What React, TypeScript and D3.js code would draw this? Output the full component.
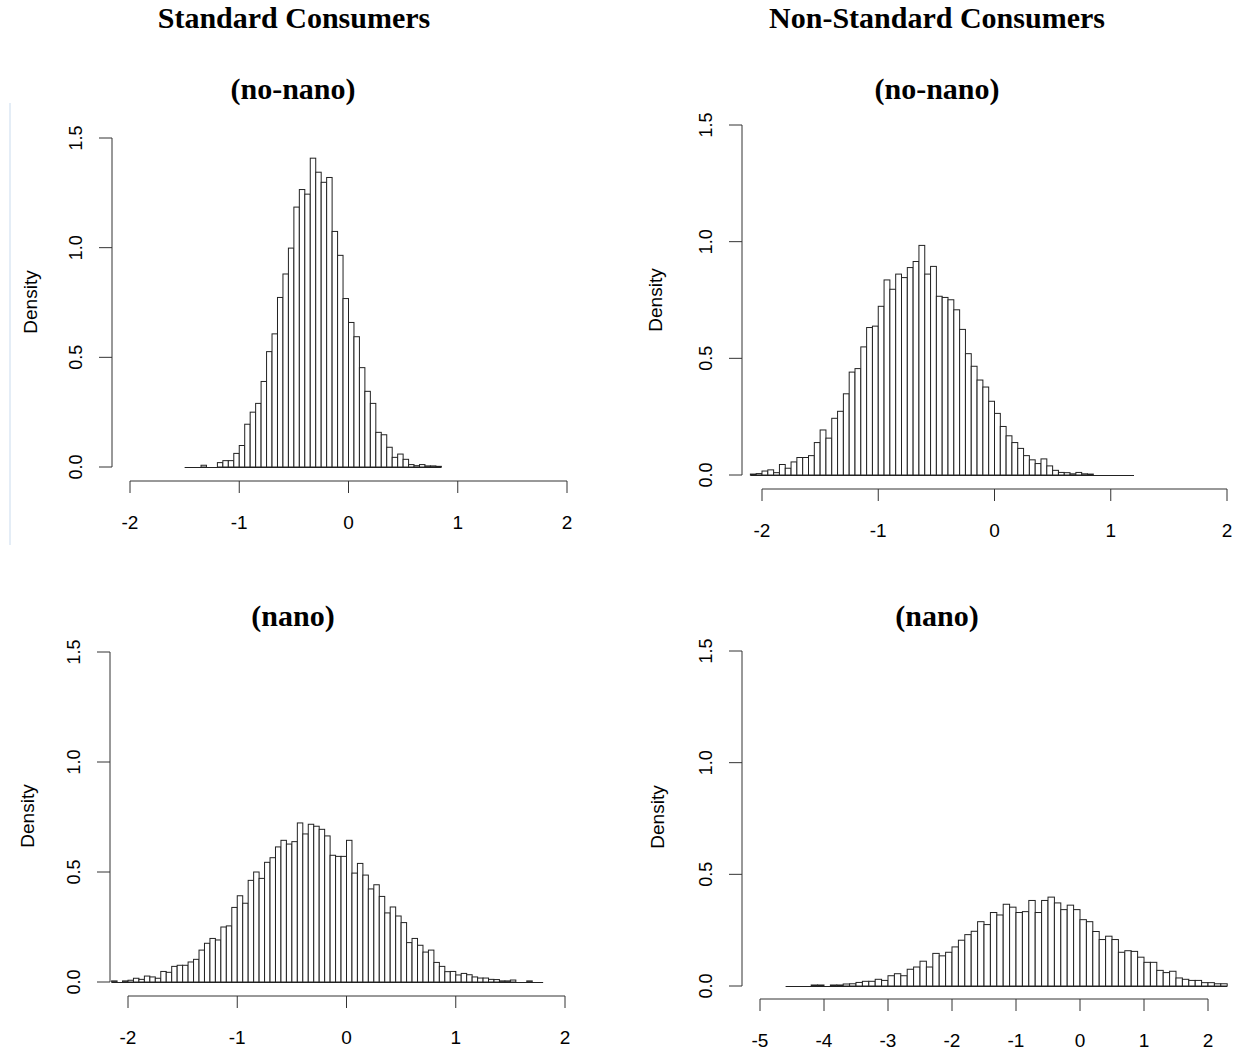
import React from "react"
import { scaleLinear } from "d3"

// histogram densities (R hist, freq = FALSE)
const stdNoNanoStart = -1.5
const stdNoNanoStep = 0.05
const stdNoNano = [
  0, 0, 0, 0.008, 0, 0, 0.02, 0.029, 0.029, 0.062,
  0.098, 0.195, 0.25, 0.29, 0.39, 0.526, 0.607, 0.773, 0.88, 0.998,
  1.185, 1.265, 1.244, 1.408, 1.344, 1.298, 1.32, 1.074, 0.965, 0.768,
  0.659, 0.594, 0.453, 0.345, 0.29, 0.158, 0.147, 0.09, 0.044, 0.059,
  0.035, 0.011, 0.006, 0.011, 0.005, 0.005, 0.003,
]

const nonStdNoNanoStart = -2.1
const nonStdNoNanoStep = 0.05
const nonStdNoNano = [
  0.004, 0.006, 0.017, 0.022, 0.01, 0.045, 0.029, 0.056, 0.075, 0.075,
  0.083, 0.139, 0.193, 0.158, 0.243, 0.273, 0.348, 0.441, 0.456, 0.549,
  0.632, 0.638, 0.723, 0.836, 0.796, 0.861, 0.846, 0.889, 0.915, 0.984,
  0.861, 0.894, 0.766, 0.761, 0.751, 0.708, 0.624, 0.52, 0.466, 0.407,
  0.377, 0.316, 0.264, 0.208, 0.168, 0.139, 0.114, 0.083, 0.065, 0.049,
  0.069, 0.039, 0.02, 0.011, 0.01, 0.005, 0.011, 0.005, 0.004, 0,
  0, 0, 0, 0, 0, 0,
]

const stdNanoStart = -2.15
const stdNanoStep = 0.05
const stdNano = [
  0.005, 0, 0.005, 0.008, 0.017, 0.012, 0.027, 0.023, 0.017, 0.048,
  0.044, 0.071, 0.076, 0.076, 0.091, 0.103, 0.145, 0.176, 0.198, 0.191,
  0.25, 0.255, 0.339, 0.392, 0.358, 0.462, 0.5, 0.471, 0.544, 0.565,
  0.614, 0.644, 0.627, 0.638, 0.723, 0.673, 0.717, 0.708, 0.694, 0.664,
  0.576, 0.571, 0.571, 0.644, 0.495, 0.539, 0.486, 0.423, 0.442, 0.389,
  0.314, 0.341, 0.3, 0.27, 0.179, 0.198, 0.167, 0.136, 0.145, 0.089,
  0.071, 0.047, 0.048, 0.032, 0.039, 0.033, 0.023, 0.018, 0.018, 0.012,
  0.011, 0.005, 0.005, 0.009, 0, 0, 0.005, 0, 0,
]

const nonStdNanoStart = -4.6
const nonStdNanoStep = 0.1
const nonStdNano = [
  0, 0, 0, 0, 0.0045, 0.0045, 0, 0.0045, 0.0045, 0.009,
  0.01, 0.016, 0.021, 0.021, 0.03, 0.025, 0.046, 0.055, 0.046, 0.075,
  0.085, 0.111, 0.085, 0.146, 0.135, 0.151, 0.175, 0.205, 0.23, 0.245,
  0.288, 0.275, 0.329, 0.318, 0.366, 0.353, 0.329, 0.333, 0.383, 0.329,
  0.383, 0.398, 0.372, 0.342, 0.362, 0.342, 0.297, 0.288, 0.244, 0.208,
  0.223, 0.208, 0.151, 0.158, 0.155, 0.129, 0.106, 0.106, 0.07, 0.06,
  0.066, 0.036, 0.03, 0.025, 0.025, 0.015, 0.015, 0.01, 0.01,
]

const yTicks = [0, 0.5, 1, 1.5]
const xTicksStd = [-2, -1, 0, 1, 2]
const xTicksNano = [-5, -4, -3, -2, -1, 0, 1, 2]

const colTitles = ["Standard Consumers", "Non-Standard Consumers"]
const rowTitles = ["(no-nano)", "(nano)"]

const sans = "'Liberation Sans', Arial, sans-serif"
const serif = "'Liberation Serif', 'Times New Roman', serif"
const axisColor = "#333"

const Hist = ({ values, start, step, xTicks, L }) => {
  const x = scaleLinear()
    .domain([xTicks[0], xTicks[xTicks.length - 1]])
    .range([L.xLeft, L.xRight])
  const y = scaleLinear().domain([0, 1.5]).range([L.y0, L.yTop])
  const end = start + values.length * step

  return (
    <g>
      <line
        x1={x(start)}
        x2={x(end)}
        y1={y(0) + 0.5}
        y2={y(0) + 0.5}
        stroke="#222"
      />
      {values.map((v, i) =>
        v > 0 ? (
          <rect
            key={i}
            x={x(start + i * step)}
            y={y(v)}
            width={x(start + (i + 1) * step) - x(start + i * step)}
            height={y(0) - y(v)}
            fill="#fff"
            stroke="#222"
            strokeWidth={1}
          />
        ) : null
      )}

      {/* y axis */}
      <line x1={L.axisX} x2={L.axisX} y1={y(0)} y2={y(1.5)} stroke={axisColor} />
      {yTicks.map((t) => (
        <g key={t}>
          <line x1={L.axisX - 13} x2={L.axisX} y1={y(t)} y2={y(t)} stroke={axisColor} />
          <text
            transform={`translate(${L.axisX - 36}, ${y(t)}) rotate(-90)`}
            textAnchor="middle"
            dominantBaseline="central"
            fontFamily={sans}
            fontSize={18}
          >
            {t.toFixed(1)}
          </text>
        </g>
      ))}
      <text
        transform={`translate(${L.labelX}, ${L.labelY}) rotate(-90)`}
        textAnchor="middle"
        dominantBaseline="central"
        fontFamily={sans}
        fontSize={19}
      >
        Density
      </text>

      {/* x axis */}
      <line
        x1={x(xTicks[0])}
        x2={x(xTicks[xTicks.length - 1])}
        y1={L.axisY}
        y2={L.axisY}
        stroke={axisColor}
      />
      {xTicks.map((t) => (
        <g key={t}>
          <line x1={x(t)} x2={x(t)} y1={L.axisY} y2={L.axisY + 12} stroke={axisColor} />
          <text
            x={x(t)}
            y={L.axisY + 41}
            textAnchor="middle"
            dominantBaseline="central"
            fontFamily={sans}
            fontSize={19}
          >
            {t}
          </text>
        </g>
      ))}

      <text
        x={L.titleX}
        y={L.titleY}
        textAnchor="middle"
        dominantBaseline="central"
        fontFamily={serif}
        fontWeight="bold"
        fontSize={30}
      >
        {L.subtitle}
      </text>
    </g>
  )
}

const App = () => {
  const width = 1242
  const height = 1053

  const tl = { axisX: 112, y0: 467, yTop: 138, axisY: 481, xLeft: 130, xRight: 567, labelX: 30, labelY: 302, titleX: 293, titleY: 88, subtitle: rowTitles[0] }
  const tr = { axisX: 742, y0: 475, yTop: 125, axisY: 489, xLeft: 762, xRight: 1227, labelX: 655, labelY: 300, titleX: 937, titleY: 88, subtitle: rowTitles[0] }
  const bl = { axisX: 110, y0: 982, yTop: 652, axisY: 996, xLeft: 128, xRight: 565, labelX: 27, labelY: 816, titleX: 293, titleY: 615, subtitle: rowTitles[1] }
  const br = { axisX: 742, y0: 986, yTop: 651, axisY: 999, xLeft: 760, xRight: 1208, labelX: 657, labelY: 817, titleX: 937, titleY: 615, subtitle: rowTitles[1] }

  return (
    <svg
      width={width}
      height={height}
      style={{ position: "absolute", left: 0, top: 0, background: "#fff" }}
    >
      <rect width={width} height={height} fill="#fff" />
      <line x1={10} x2={10} y1={103} y2={545} stroke="#c9dbee" />

      <text x={294} y={17} textAnchor="middle" dominantBaseline="central" fontFamily={serif} fontWeight="bold" fontSize={30}>
        {colTitles[0]}
      </text>
      <text x={937} y={17} textAnchor="middle" dominantBaseline="central" fontFamily={serif} fontWeight="bold" fontSize={30}>
        {colTitles[1]}
      </text>

      <Hist values={stdNoNano} start={stdNoNanoStart} step={stdNoNanoStep} xTicks={xTicksStd} L={tl} />
      <Hist values={nonStdNoNano} start={nonStdNoNanoStart} step={nonStdNoNanoStep} xTicks={xTicksStd} L={tr} />
      <Hist values={stdNano} start={stdNanoStart} step={stdNanoStep} xTicks={xTicksStd} L={bl} />
      <Hist values={nonStdNano} start={nonStdNanoStart} step={nonStdNanoStep} xTicks={xTicksNano} L={br} />
    </svg>
  )
}

export default App
